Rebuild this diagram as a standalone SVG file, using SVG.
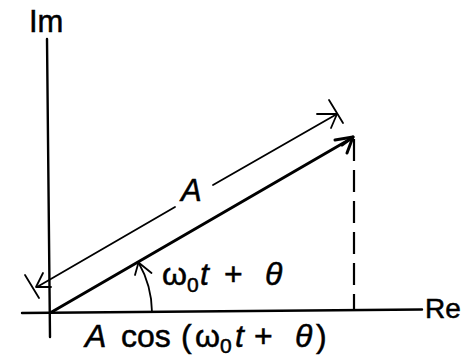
<svg xmlns="http://www.w3.org/2000/svg" width="464" height="358" viewBox="0 0 464 358">
<style>
.ax{stroke:#000;stroke-width:2.4;fill:none;stroke-linecap:round}
.thin{stroke:#000;stroke-width:1.8;fill:none;stroke-linecap:round;stroke-linejoin:round}
.thick{stroke:#000;stroke-width:3;fill:none;stroke-linecap:round;stroke-linejoin:round}
.dash{stroke:#000;stroke-width:2.2;fill:none;stroke-dasharray:22 9}
text{font-family:"Liberation Sans",Arial,sans-serif;fill:#000;stroke:#000;stroke-width:0.5}
.it{font-style:italic}
</style>
<rect width="464" height="358" fill="#fff"/>
<g id="axes">
<line class="ax" x1="47" y1="39" x2="50" y2="337"/>
<line class="ax" x1="22" y1="313" x2="422" y2="309.5"/>
<text x="29" y="32" font-size="31">Im</text>
<text x="425" y="318" font-size="28">Re</text>
</g>
<g id="connectors">
<g id="phasor">
<line class="thick" x1="50" y1="313" x2="352" y2="138"/>
<polyline class="thick" points="335,140 353,137 347,153"/>
<line class="thick" x1="353" y1="137" x2="342" y2="145"/>
</g>
<g id="projection">
<line class="dash" x1="354" y1="139" x2="354" y2="310"/>
</g>
<g id="magnitude">
<line class="thin" x1="37" y1="287" x2="175" y2="207"/>
<line class="thin" x1="213" y1="185" x2="337" y2="114"/>
<polyline class="thin" points="43,273 36,287 51,287"/>
<line class="thin" x1="25" y1="275" x2="39" y2="298"/>
<polyline class="thin" points="317,114 337,114 331,128"/>
<line class="thin" x1="329" y1="100" x2="343" y2="123"/>
</g>
<g id="angle">
<path class="thin" d="M152,312 A102,102 0 0 0 138.5,262.5"/>
<polyline class="thin" points="135,275 138.5,262.5 151.5,273"/>
</g>
</g>
<g id="labels">
<text class="it" x="181" y="201" font-size="31">A</text>
<text font-size="32" y="285"><tspan x="162">ω</tspan><tspan x="187" y="292" font-size="21">0</tspan><tspan class="it" x="200" y="285">t</tspan><tspan x="224">+</tspan><tspan class="it" x="265">θ</tspan></text>
<text font-size="32" y="347"><tspan class="it" x="85">A</tspan><tspan x="121">cos</tspan><tspan x="181">(</tspan><tspan x="195">ω</tspan><tspan x="220" y="353" font-size="21">0</tspan><tspan class="it" x="235" y="347">t</tspan><tspan x="254">+</tspan><tspan class="it" x="295">θ</tspan><tspan x="316">)</tspan></text>
</g>
</svg>
